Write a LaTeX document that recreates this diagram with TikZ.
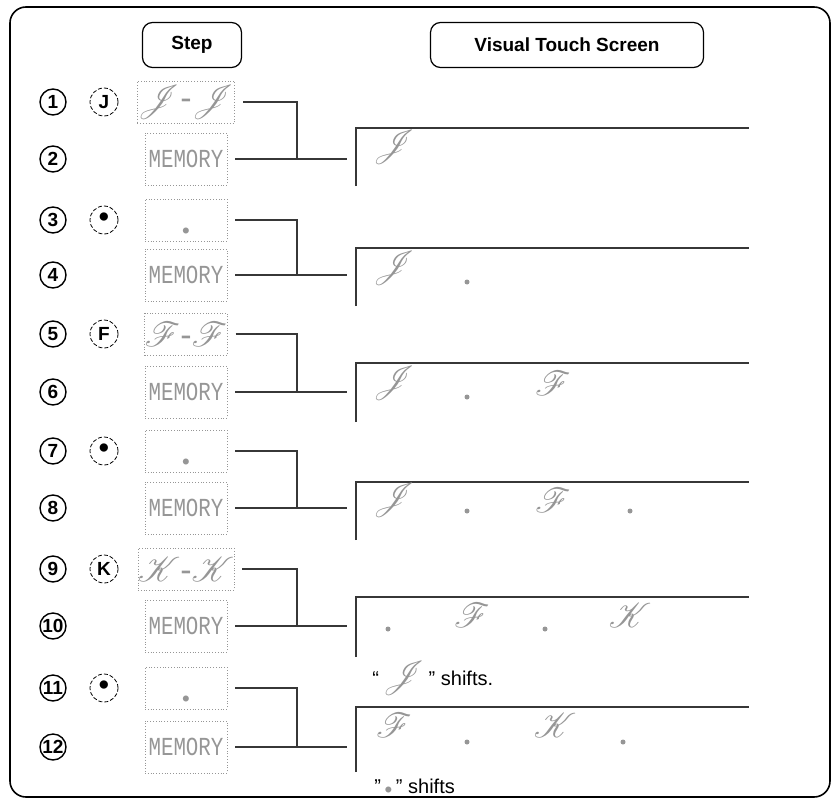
\documentclass[tikz,border=0pt]{standalone}
\usepackage{fontspec}
\setmainfont{Liberation Sans}
\newfontfamily\lcdfont{Liberation Mono}
\usepackage{mathrsfs}
\usetikzlibrary{positioning, calc}
\definecolor{lcdgray}{RGB}{150,150,150}
\definecolor{inkgray}{RGB}{55,55,55}
\newcommand{\lcdglyph}[1]{\textcolor{lcdgray}{$\mathscr{#1}$}}
\newcommand{\lcdpair}[1]{{\fontsize{17}{17}\selectfont\lcdglyph{#1}\textcolor{lcdgray}{-}\lcdglyph{#1}}}
\newcommand{\lcdmark}{\raisebox{-7pt}[0pt][0pt]{\textcolor{lcdgray}{\scriptsize$\bullet$}}}
\newcommand{\lcdword}{\scalebox{0.8}[1]{\textcolor{lcdgray}{\lcdfont\fontsize{13}{13}\selectfont MEMORY}}}
\tikzset{
  frame/.style={draw, line width=0.8pt, rounded corners=8pt},
  headbox/.style={draw, line width=0.6pt, rounded corners=5pt,
                  font=\fontsize{9.5}{11}\selectfont\bfseries, minimum height=22.5pt},
  numcirc/.style={circle, draw, line width=0.7pt, inner sep=0pt, minimum size=13pt,
                  font=\fontsize{9.5}{9.5}\selectfont\bfseries},
  keycirc/.style={circle, draw, thin, dash pattern=on 2pt off 1pt, inner sep=0pt,
                  minimum size=14pt, font=\fontsize{9.5}{9.5}\selectfont\bfseries},
  lcdbox/.style={draw=lcdgray, densely dotted, minimum width=41pt, minimum height=#1,
                 inner sep=0pt},
  conn/.style={line width=0.8pt, draw=inkgray},
  screen/.style={line width=#1, draw=inkgray},
  lcdtext/.style={text=lcdgray, inner sep=0pt, font=\fontsize{18}{18}\selectfont},
  lcddot/.style={circle, fill=lcdgray, inner sep=0pt, minimum size=2.5pt},
  note/.style={font=\fontsize{10}{12}\selectfont, inner sep=0pt, anchor=west},
}

\begin{document}
\begin{tikzpicture}[x=0.5pt, y=-0.5pt]
\useasboundingbox (0,0) rectangle (833,802);

% ===================== frame and headings ==================
\draw[frame] (10,7) rectangle (830,797);
\node[headbox, minimum width=49.5pt] (stephead) at (192,45) {Step};
\node[headbox, minimum width=136.5pt] (screenhead) at (567,45) {Visual Touch Screen};

% ===================== step rows ==================
\foreach \k/\ys/\ym/\yt/\hs/\lw/\key/\show in {
    1/102/159/128/58/0.8pt/J/{\lcdpair{J}},
    2/220/275/248/58/0.8pt/{\Large\textbullet}/{\lcdmark},
    3/334/392/363/59/0.8pt/F/{\lcdpair{F}},
    4/451/508/482/58/0.8pt/{\Large\textbullet}/{\lcdmark},
    5/569/626/597/60/0.8pt/K/{\lcdpair{K}},
    6/688/747/707/65/1.2pt/{\Large\textbullet}/{\lcdmark}} {
  \pgfmathtruncatemacro{\na}{2*\k-1}
  \pgfmathtruncatemacro{\nb}{2*\k}
  % step numbers and keys
  \node[numcirc] (num\na) at (53,\ys) {\na};
  \node[numcirc] (num\nb) at (53,\ym) {\nb};
  \node[keycirc] (keyc\k) at (104,\ys) {\key};
  % display windows
  \node[lcdbox=21pt] (key\k) at (186,\ys) {\show};
  \node[lcdbox=26pt] (mem\k) at (186,\ym) {\lcdword};
  % screen window (top and left edges only)
  \coordinate (scr\k) at (356,\yt);
  \draw[screen=\lw] ($(scr\k)+(0,\hs)$) -- (scr\k) -- ++(393,0);
  % connectors
  \coordinate (jn\k) at (297,\ym);
  \draw[conn] ([xshift=4pt]key\k.east) -| (jn\k);
  \draw[conn] ([xshift=4pt]mem\k.east) -- (jn\k) -- ([xshift=-4.5pt]scr\k |- jn\k);
}

% ===================== screen contents ==================
\node[lcdtext] (s1a) at (394,147) {$\mathscr{J}$};

\node[lcdtext] (s2a) at (394,268) {$\mathscr{J}$};
\node[lcddot]  (s2b) at (467,282) {};

\node[lcdtext] (s3a) at (394,383) {$\mathscr{J}$};
\node[lcddot]  (s3b) at (467,397) {};
\node[lcdtext] (s3c) at (553,383) {$\mathscr{F}$};

\node[lcdtext] (s4a) at (394,500) {$\mathscr{J}$};
\node[lcddot]  (s4b) at (467,511) {};
\node[lcdtext] (s4c) at (553,500) {$\mathscr{F}$};
\node[lcddot]  (s4d) at (630,511) {};

\node[lcddot]  (s5a) at (388,629) {};
\node[lcdtext] (s5b) at (472,615) {$\mathscr{F}$};
\node[lcddot]  (s5c) at (545,629) {};
\node[lcdtext] (s5d) at (630,615) {$\mathscr{K}$};

\node[lcdtext] (s6a) at (394,725) {$\mathscr{F}$};
\node[lcddot]  (s6b) at (467,742) {};
\node[lcdtext] (s6c) at (555,725) {$\mathscr{K}$};
\node[lcddot]  (s6d) at (623,742) {};

% notes under the last two screens
\node[note] (shiftJ) at (372,678)
  {``\,{\fontsize{16}{16}\selectfont\lcdglyph{J}}\,'' shifts.};
\node[note] (shiftdot) at (374,786)
  {''\,\textcolor{lcdgray}{\scriptsize$\bullet$}\,'' shifts};

\end{tikzpicture}
\end{document}
